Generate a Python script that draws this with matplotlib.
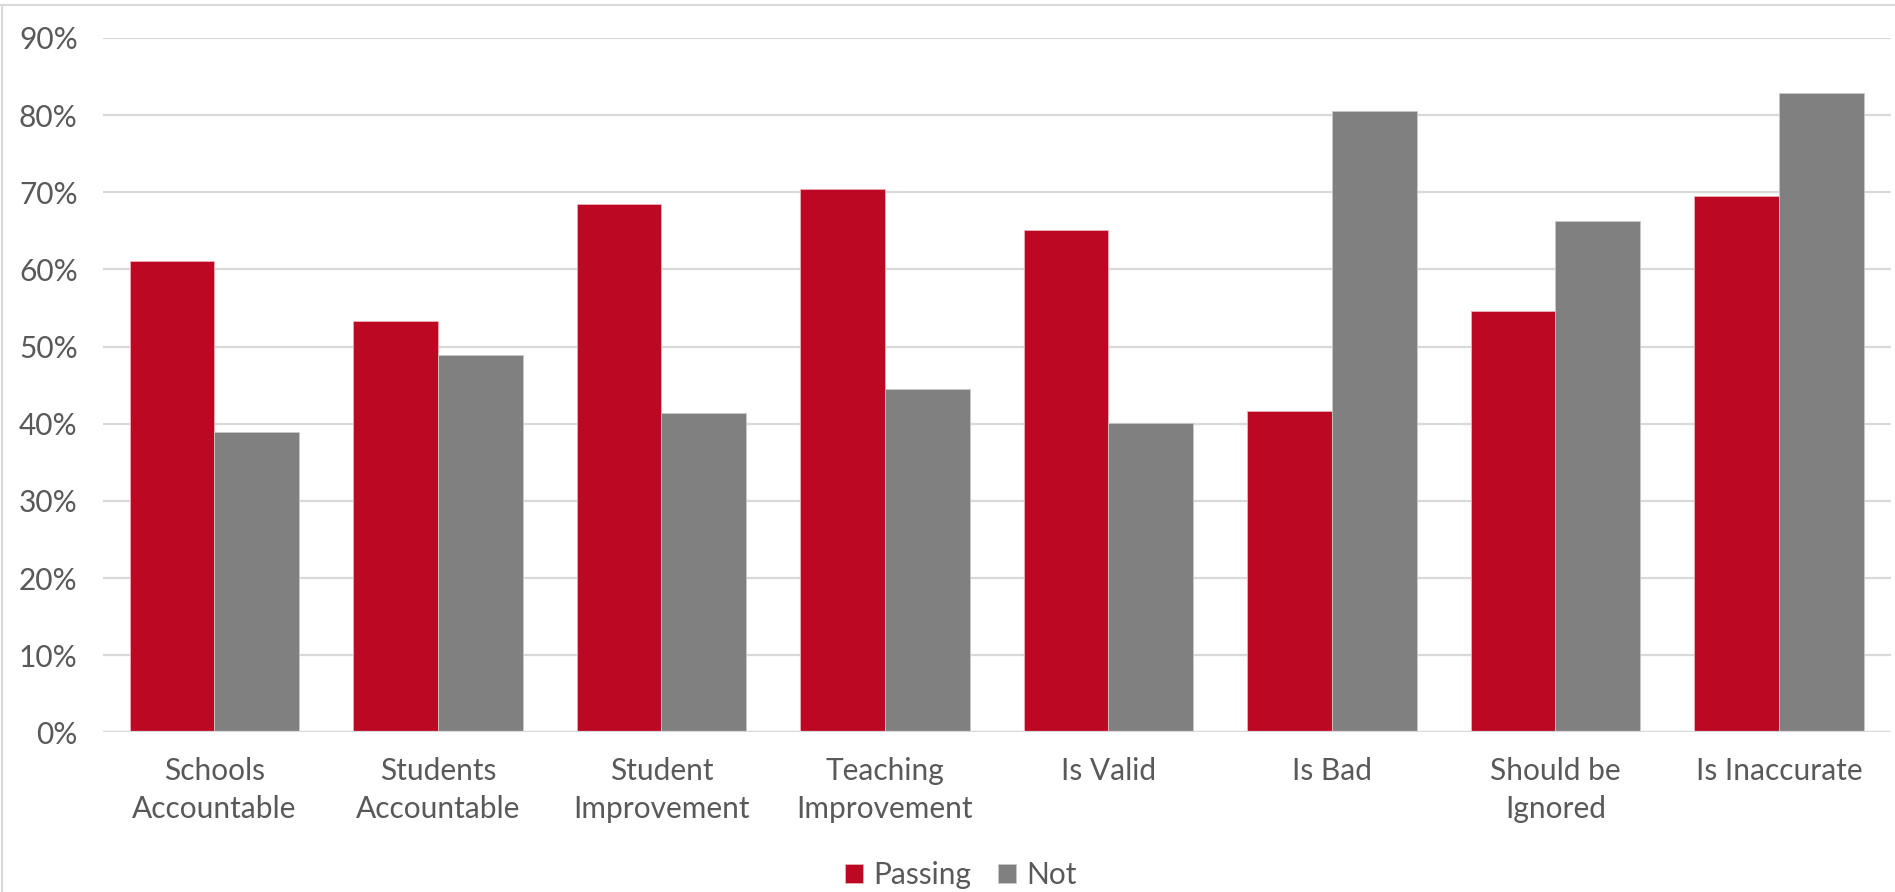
import numpy as np
import matplotlib
matplotlib.use("Agg")
import matplotlib.pyplot as plt
from matplotlib.ticker import PercentFormatter
from matplotlib.lines import Line2D

categories = ["Schools\nAccountable", "Students\nAccountable", "Student\nImprovement",
              "Teaching\nImprovement", "Is Valid", "Is Bad", "Should be\nIgnored",
              "Is Inaccurate"]
passing = [61.1, 53.3, 68.5, 70.4, 65.1, 41.7, 54.6, 69.5]
not_passing = [38.9, 48.9, 41.4, 44.5, 40.1, 80.5, 66.3, 82.9]
series_names = ["Passing", "Not"]
yticks = [0, 10, 20, 30, 40, 50, 60, 70, 80, 90]

red = "#BC0823"
gray = "#808080"
text_col = "#595959"
grid_col = "#D9D9D9"

plt.rcParams['font.family'] = ['Lato', 'DejaVu Sans']

fig = plt.figure(figsize=(18.95, 8.92), dpi=100)
ax = fig.add_axes([0.0542, 0.179, 0.9435, 0.7784])

x = np.arange(len(categories))
w = 0.379
ax.bar(x - w / 2, passing, w, color=red, edgecolor="#E8B0B8", linewidth=0.6,
       label=series_names[0], zorder=3)
ax.bar(x + w / 2, not_passing, w, color=gray, edgecolor="#C8C8C8", linewidth=0.6,
       label=series_names[1], zorder=3)

ax.set_xlim(-0.5, len(categories) - 0.5)
ax.set_ylim(0, 90)
ax.set_yticks(yticks)
ax.yaxis.set_major_formatter(PercentFormatter(decimals=0))
ax.grid(axis="y", color=grid_col, linewidth=1.6, zorder=0)
ax.set_xticks(x)
ax.set_xticklabels(categories, linespacing=1.4)
ax.tick_params(axis="both", length=0, labelsize=21.5, colors=text_col)
ax.tick_params(axis="x", pad=18)
ax.tick_params(axis="y", pad=18)
for s in ax.spines.values():
    s.set_visible(False)
ax.axhline(0, color=grid_col, linewidth=1.6, zorder=4)

leg = fig.legend(loc="center", bbox_to_anchor=(0.507, 0.019), ncol=2, frameon=False,
                 fontsize=21.5, handlelength=0.6, handleheight=0.6,
                 handletextpad=0.35, columnspacing=0.9)
for t in leg.get_texts():
    t.set_color(text_col)

# thin outline around the chart area
fig.add_artist(Line2D([0, 1], [0.9944, 0.9944], transform=fig.transFigure,
                      color=grid_col, linewidth=1.5))
fig.add_artist(Line2D([0.0008, 0.0008], [0, 0.9944], transform=fig.transFigure,
                      color=grid_col, linewidth=1.5))

fig.savefig("out.png", dpi=100, facecolor="white")
